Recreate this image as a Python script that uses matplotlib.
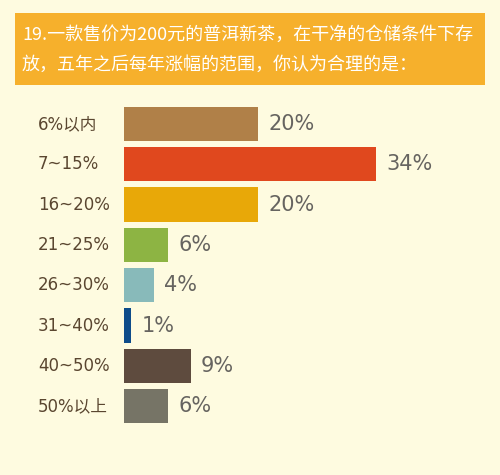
import matplotlib
matplotlib.use("Agg")
import matplotlib.pyplot as plt
from matplotlib.patches import Rectangle
from matplotlib.transforms import blended_transform_factory

plt.rcParams['font.family'] = ['Noto Sans CJK SC', 'DejaVu Sans']
latin_first = ['DejaVu Sans', 'Noto Sans CJK SC']

title_lines = ["19.一款售价为200元的普洱新茶，在干净的仓储条件下存",
               "放，五年之后每年涨幅的范围，你认为合理的是："]
categories = ["6%以内", "7~15%", "16~20%", "21~25%", "26~30%", "31~40%", "40~50%", "50%以上"]
# bar lengths as drawn in the picture, and the printed labels
values = [18.1, 34, 18.1, 6, 4, 1, 9, 6]
labels = ["20%", "34%", "20%", "6%", "4%", "1%", "9%", "6%"]
colors = ["#B08048", "#E0481E", "#E8A808", "#8DB443", "#88BABA", "#0E4C8A", "#5E4B3E", "#767466"]

bg = "#FEFBE0"
fig = plt.figure(figsize=(5, 4.75), dpi=100, facecolor=bg)

# header box
fig.patches.append(Rectangle((15 / 500, 1 - 85 / 475), 470 / 500, 72 / 475,
                             transform=fig.transFigure, facecolor="#F6B02C",
                             edgecolor="none"))
fig.text(22 / 500, 1 - 35 / 475, title_lines[0], color="white", fontsize=13,
         va="center", ha="left", fontweight="light")
fig.text(22 / 500, 1 - 65 / 475, title_lines[1], color="white", fontsize=13,
         va="center", ha="left", fontweight="light")

ax = fig.add_axes([0.248, 0.1025, 0.592, 0.679])
ax.set_facecolor(bg)
y = list(range(len(categories)))
ax.barh(y, values, height=0.85, color=colors)
ax.set_xlim(0, 40)
ax.set_ylim(len(categories) - 0.5, -0.5)
ax.axis("off")

for yi, v, lab in zip(y, values, labels):
    ax.annotate(lab, (v, yi), xytext=(7.5, 0), textcoords="offset points",
                va="center", ha="left", fontsize=15, color="#666460",
                family=latin_first)

tr = blended_transform_factory(fig.transFigure, ax.transData)
for yi, c in zip(y, categories):
    ax.text(38 / 500, yi, c, transform=tr, va="center", ha="left",
            fontsize=12, color="#5A4630", family=latin_first)

fig.savefig("out.png", dpi=100, facecolor=bg)
